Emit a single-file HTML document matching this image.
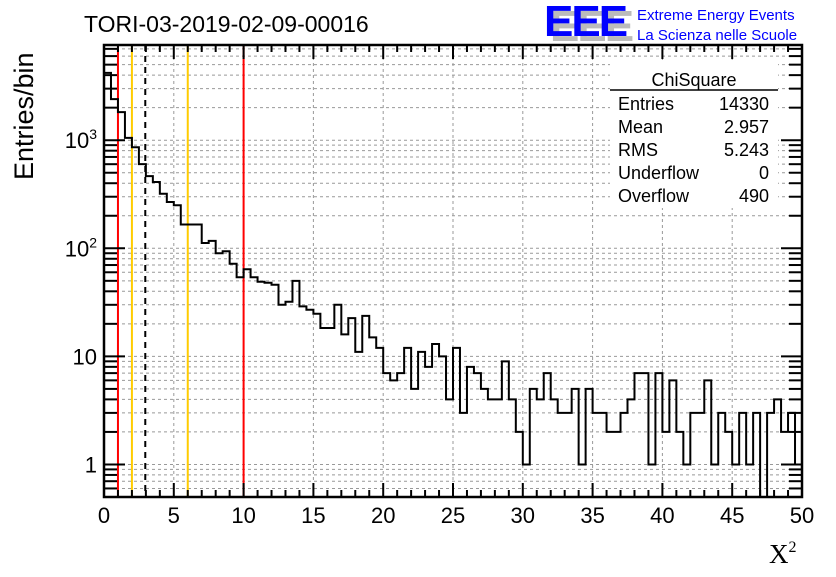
<!DOCTYPE html>
<html><head><meta charset="utf-8"><style>
body{margin:0;background:#fff;width:836px;height:572px;overflow:hidden}
svg text{font-family:"Liberation Sans",sans-serif}
</style></head><body>
<svg id="c" width="836" height="572" xmlns="http://www.w3.org/2000/svg">
<rect width="836" height="572" fill="#fff"/>
<g id="grid"></g>
<g id="vlines"></g>
<path id="hist" fill="none" stroke="#000" stroke-width="2"/>
<rect x="610" y="62" width="168" height="146" fill="#fff"/>
<g id="axes"></g>
<text x="84" y="32" font-size="23">TORI-03-2019-02-09-00016</text>
<text x="33" y="180" font-size="27" transform="rotate(-90 33 180)">Entries/bin</text>
<text x="769" y="563" font-size="27" font-family="Liberation Serif" style="font-family:'Liberation Serif',serif">X<tspan font-size="16" dy="-11">2</tspan></text>
<g>
<text x="550" y="41" font-size="44" font-weight="bold" fill="#bbb" letter-spacing="-2">EEE</text>
<text x="544" y="36" font-size="44" font-weight="bold" fill="#0000ff" letter-spacing="-2">EEE</text>
<text x="637" y="20" font-size="15" fill="#0000ff">Extreme Energy Events</text>
<text x="637" y="40" font-size="15" fill="#0000ff">La Scienza nelle Scuole</text>
</g>
<g font-size="18">
<text x="694" y="86" text-anchor="middle">ChiSquare</text>
<line x1="610" y1="90" x2="778" y2="90" stroke="#000" stroke-width="1.5"/>
<text x="618" y="110">Entries</text><text x="769" y="110" text-anchor="end">14330</text>
<text x="618" y="133">Mean</text><text x="769" y="133" text-anchor="end">2.957</text>
<text x="618" y="156">RMS</text><text x="769" y="156" text-anchor="end">5.243</text>
<text x="618" y="179">Underflow</text><text x="769" y="179" text-anchor="end">0</text>
<text x="618" y="202">Overflow</text><text x="769" y="202" text-anchor="end">490</text>
</g>
</svg>
<script>
const binEdges0 = 0, binWidth = 0.5;
const counts = [4200,2400,1820,1050,860,600,465,410,320,268,250,166,166,166,112,117,90,94,72,54,
64,54,49,48,46,30,32,50,29,27,24.8,18.3,18.3,30,16,22.6,11,23.7,15,12,
7,6,7,12,5,11,8,13,10,4,12,3,8,7,5,4,4,9,4,2,
1,5,4,7,4,3,3,5,1,5,3,3,2,2,3,4,7,7,1,7,
2,6,2,1,3,3,6,1,3,2,1,3,1,3,0,3,4,2,3,1];
const xTicks = [0,5,10,15,20,25,30,35,40,45,50];
const refLines = [{v:1,c:'#ff0000',d:''},{v:2,c:'#ffcc00',d:''},{v:6,c:'#ffcc00',d:''},{v:10,c:'#ff0000',d:''},{v:2.957,c:'#000',d:'6,5'}];
const X0=104,X1=802,Y0=45,Y1=497,YMIN=0.5,YMAX=7600;
const ns='http://www.w3.org/2000/svg';
function sx(v){return X0+(v-0)/(50-0)*(X1-X0);}
function sy(v){if(v<=YMIN)return Y1;return Y1-(Math.log10(v)-Math.log10(YMIN))/(Math.log10(YMAX)-Math.log10(YMIN))*(Y1-Y0);}
function mk(tag,attrs,parent){const e=document.createElementNS(ns,tag);for(const k in attrs)e.setAttribute(k,attrs[k]);parent.appendChild(e);return e;}
const grid=document.getElementById('grid'),axes=document.getElementById('axes'),vl=document.getElementById('vlines');
// grid
for(const t of xTicks){if(t===0||t===50)continue;const l=mk('line',{x1:sx(t),x2:sx(t),y1:Y0,y2:Y1,stroke:'#999','stroke-dasharray':'3,3','stroke-width':1},grid);

}
const yMinor=[];for(let e=-1;e<=3;e++)for(let m=1;m<=9;m++){const v=m*Math.pow(10,e);if(v>=YMIN&&v<=YMAX)yMinor.push(v);}
for(const v of yMinor){const y=sy(v);const l=mk('line',{x1:X0,x2:X1,y1:y,y2:y,stroke:'#999','stroke-dasharray':'3,3','stroke-width':1},grid);


const big=[1,10,100,1000].includes(v);
mk('line',{x1:X0,x2:X0+(big?21:13),y1:y,y2:y,stroke:'#000','stroke-width':2},axes);
mk('line',{x1:X1,x2:X1-(big?21:13),y1:y,y2:y,stroke:'#000','stroke-width':2},axes);}
// ref lines
for(const r of refLines){const l=mk('line',{x1:sx(r.v),x2:sx(r.v),y1:Y0,y2:Y1,stroke:r.c,'stroke-width':2},vl);if(r.d)l.setAttribute('stroke-dasharray',r.d);

}
// histogram
let d='M'+sx(0)+','+Y1;
counts.forEach((c,i)=>{const xa=sx(binEdges0+i*binWidth),xb=sx(binEdges0+(i+1)*binWidth),y=sy(c);d+=' L'+xa+','+y+' L'+xb+','+y;});
d+=' L'+sx(50)+','+Y1;
document.getElementById('hist').setAttribute('d',d);
// frame
const fr=mk('rect',{x:X0,y:Y0,width:X1-X0,height:Y1-Y0,fill:'none',stroke:'#000','stroke-width':2.5},axes);


// x ticks
for(let v=0;v<=50;v++){const big=v%5===0;const x=sx(v);
mk('line',{x1:x,x2:x,y1:Y1,y2:Y1-(big?14:7),stroke:'#000','stroke-width':2},axes);
mk('line',{x1:x,x2:x,y1:Y0,y2:Y0+(big?14:7),stroke:'#000','stroke-width':2},axes);}
for(const t of xTicks){const tx=mk('text',{x:sx(t),y:523,'font-size':22,'text-anchor':'middle'},axes);tx.textContent=t;

}
const yLab=[[1,'1'],[10,'10'],[100,'10²'],[1000,'10³']];
for(const [v,s] of yLab){const tx=mk('text',{x:97,y:sy(v)+8,'font-size':22,'text-anchor':'end'},axes);
if(v>=100){tx.textContent='10';const ts=mk('tspan',{'font-size':14,dy:-9},tx);ts.textContent=v===100?'2':'3';}else tx.textContent=s;

}
</script>
</body></html>
